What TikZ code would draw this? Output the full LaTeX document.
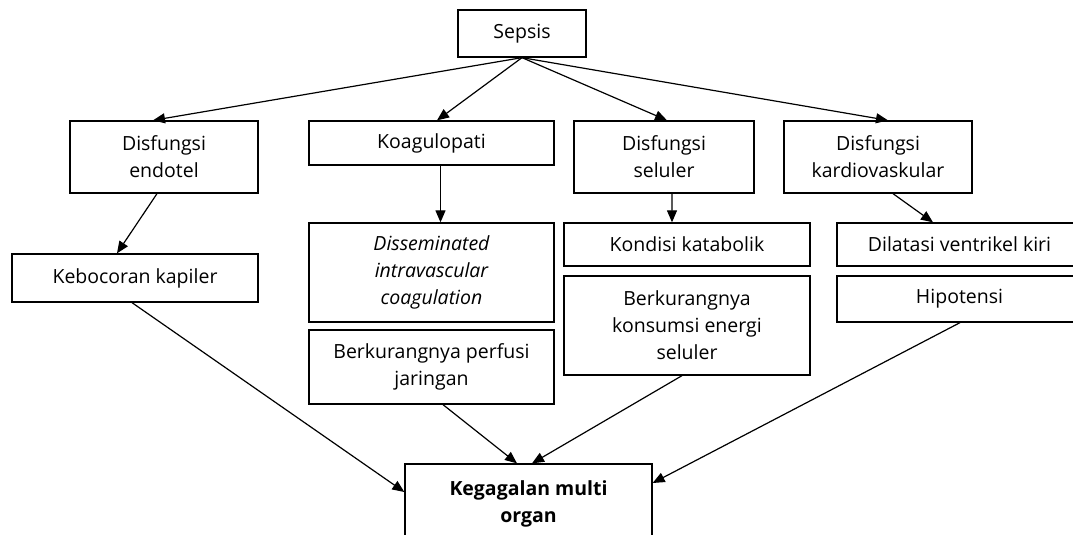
\documentclass[tikz,border=0pt]{standalone}
\usepackage{fontspec}
\setmainfont{Open Sans}
\usetikzlibrary{arrows.meta}
\begin{document}
\begin{tikzpicture}[x=1bp,y=-1bp,
  box/.style={draw, line width=1.3bp, align=center, inner sep=0pt,
    font=\fontsize{19.5bp}{27bp}\selectfont},
  arr/.style={line width=1.2bp, -{Triangle[length=12bp,width=10bp]}}]
\useasboundingbox (0,0) rectangle (1073,535);
\node[box, minimum width=128bp, minimum height=47bp] (sepsis) at (522,33.5) {Sepsis};
\node[box, minimum width=188bp, minimum height=72bp] (endotel) at (164,157) {Disfungsi\\endotel};
\node[box, minimum width=245bp, minimum height=44bp] (koag) at (431.5,143) {Koagulopati};
\node[box, minimum width=180bp, minimum height=72bp] (seluler) at (664,157) {Disfungsi\\seluler};
\node[box, minimum width=188bp, minimum height=72bp] (kardio) at (878,157) {Disfungsi\\kardiovaskular};
\node[box, minimum width=246bp, minimum height=48bp] (kebocoran) at (135,278) {Kebocoran kapiler};
\node[box, minimum width=245bp, minimum height=99bp] (dic) at (431.5,272.5) {\itshape Disseminated\\\itshape intravascular\\\itshape coagulation};
\node[box, minimum width=245bp, minimum height=74bp] (perfusi) at (431.5,367) {Berkurangnya perfusi\\jaringan};
\node[box, minimum width=246bp, minimum height=43bp] (kondisi) at (687,244.5) {Kondisi katabolik};
\node[box, minimum width=246bp, minimum height=99bp] (konsumsi) at (687,325.5) {Berkurangnya\\konsumsi energi\\seluler};
\node[box, minimum width=245bp, minimum height=43bp] (dilatasi) at (959.5,244.5) {Dilatasi ventrikel kiri};
\node[box, minimum width=245bp, minimum height=46bp] (hipotensi) at (959.5,299) {Hipotensi};
\node[box, minimum width=247bp, minimum height=80bp, font=\fontsize{19.5bp}{27bp}\selectfont\bfseries] (gagal) at (528.5,504) {Kegagalan multi\\organ};
\draw[arr] (sepsis.south) -- ([xshift=-11bp]endotel.north);
\draw[arr] (sepsis.south) -- ([xshift=5.5bp]koag.north);
\draw[arr] (sepsis.south) -- ([xshift=3bp]seluler.north);
\draw[arr] (sepsis.south) -- ([xshift=10bp]kardio.north);
\draw[arr] ([xshift=-7bp]endotel.south) -- ([xshift=-18bp]kebocoran.north);
\draw[arr] ([xshift=9bp]koag.south) -- ([xshift=9bp]dic.north);
\draw[arr] ([xshift=8bp]seluler.south) -- ([xshift=-15bp]kondisi.north);
\draw[arr] ([xshift=15bp]kardio.south) -- ([xshift=-26.5bp]dilatasi.north);
\draw[arr] ([xshift=-3bp]kebocoran.south) -- ([yshift=12bp]gagal.west);
\draw[arr] ([xshift=11.5bp]perfusi.south) -- ([xshift=-11.5bp]gagal.north);
\draw[arr] ([xshift=-5bp]konsumsi.south) -- ([xshift=3.5bp]gagal.north);
\draw[arr] ([xshift=0.5bp]hipotensi.south) -- ([yshift=21bp]gagal.east);
\end{tikzpicture}
\end{document}
